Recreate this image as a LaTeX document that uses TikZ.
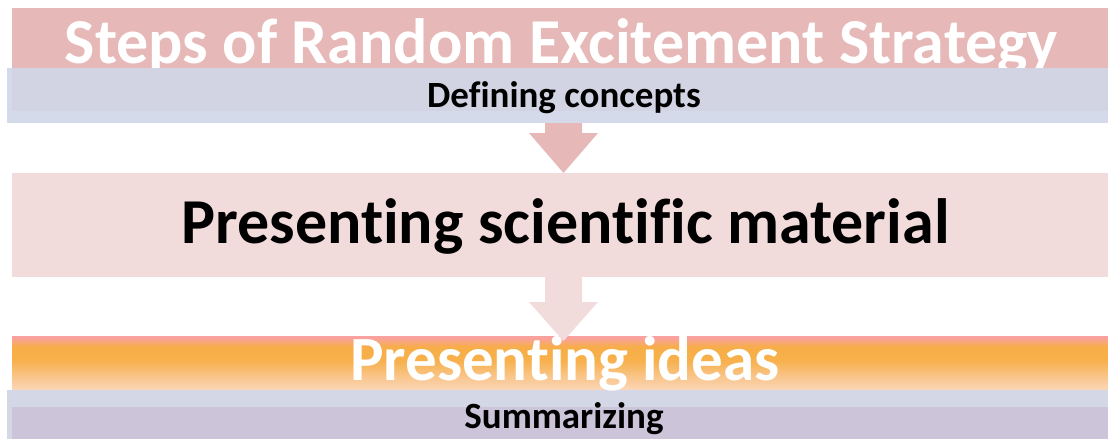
\documentclass[tikz,border=0pt]{standalone}
\usepackage{fontspec}
\setmainfont{Carlito}[RawFeature={-liga;-clig}]
\usetikzlibrary{calc}
\definecolor{titlepink}{HTML}{E6B8B7}
\definecolor{paleblue}{HTML}{D4DAEA}
\definecolor{midblue}{HTML}{D2D4E3}
\definecolor{palepink}{HTML}{F2DCDB}
\definecolor{lilac}{HTML}{CCC5DA}
\definecolor{sumblue}{HTML}{D3D7E6}
\definecolor{peach}{HTML}{FCD9C0}
\definecolor{lightorange}{HTML}{F9C68C}
\definecolor{deeporange}{HTML}{F7B04A}
\definecolor{deeporange2}{HTML}{F7AE48}
\definecolor{salmon}{HTML}{F9A29A}
\definecolor{rosetop}{HTML}{FAA0A8}
\pgfdeclareverticalshading{ideashade}{100bp}{%
  color(0bp)=(peach);
  color(14bp)=(lightorange);
  color(30bp)=(deeporange);
  color(42bp)=(deeporange2);
  color(50bp)=(salmon);
  color(54bp)=(rosetop)}
\tikzset{
  band/.style={rectangle, inner sep=0pt, outer sep=0pt, draw=none},
  label/.style={inner sep=0pt, outer sep=0pt, anchor=base, font=\bfseries}
}
\begin{document}
\begin{tikzpicture}[x=1pt, y=-1pt]
\useasboundingbox (0,0) rectangle (1108,439);
% title band
\node[band, fill=titlepink, minimum width=1096pt, minimum height=60pt] (titlebox) at (560,38) {};
\node[label, text=white, font=\bfseries\fontsize{64}{64}\selectfont] (titletext) at (561.5,63) {Steps of Random Excitement Strategy};
% first step
\node[band, fill=paleblue, minimum width=1101pt, minimum height=55pt] (defbox) at (557.5,95.5) {};
\node[band, fill=midblue, minimum width=1096pt, minimum height=43pt] (definner) at (560,89.5) {};
\node[label, font=\bfseries\fontsize{37}{37}\selectfont] (deftext) at (564,107) {Defining concepts};
% second step
\node[band, fill=palepink, minimum width=1096pt, minimum height=104pt] (matbox) at (560,225) {};
\node[label, font=\bfseries\fontsize{64}{64}\selectfont] (mattext) at (565.5,243) {Presenting scientific material};
% third step
\node[band, minimum width=1096pt, minimum height=54pt, shading=ideashade] (ideasbox) at (560,363) {};
% fourth step
\node[band, fill=sumblue, minimum width=1101pt, minimum height=49pt] (sumbox) at (557.5,414.5) {};
\node[band, fill=lilac, minimum width=1096pt, minimum height=32pt] (suminner) at (560,423) {};
\node[label, font=\bfseries\fontsize{37}{37}\selectfont] (sumtext) at (564,428) {Summarizing};
% block arrows between the steps
\fill[titlepink] (defbox.south -| 545,0) -- (545,133) -- (529,133) -- (563.5,0 |- matbox.north)
  -- (598,133) -- (582,133) -- (defbox.south -| 582,0) -- cycle;
\fill[palepink] (matbox.south -| 545,0) -- (545,302) -- (529,302) -- (563.5,341)
  -- (598,302) -- (582,302) -- (matbox.south -| 582,0) -- cycle;
\node[label, text=white, font=\bfseries\fontsize{63}{63}\selectfont] (ideastext) at (565,380) {Presenting ideas};
\end{tikzpicture}
\end{document}
